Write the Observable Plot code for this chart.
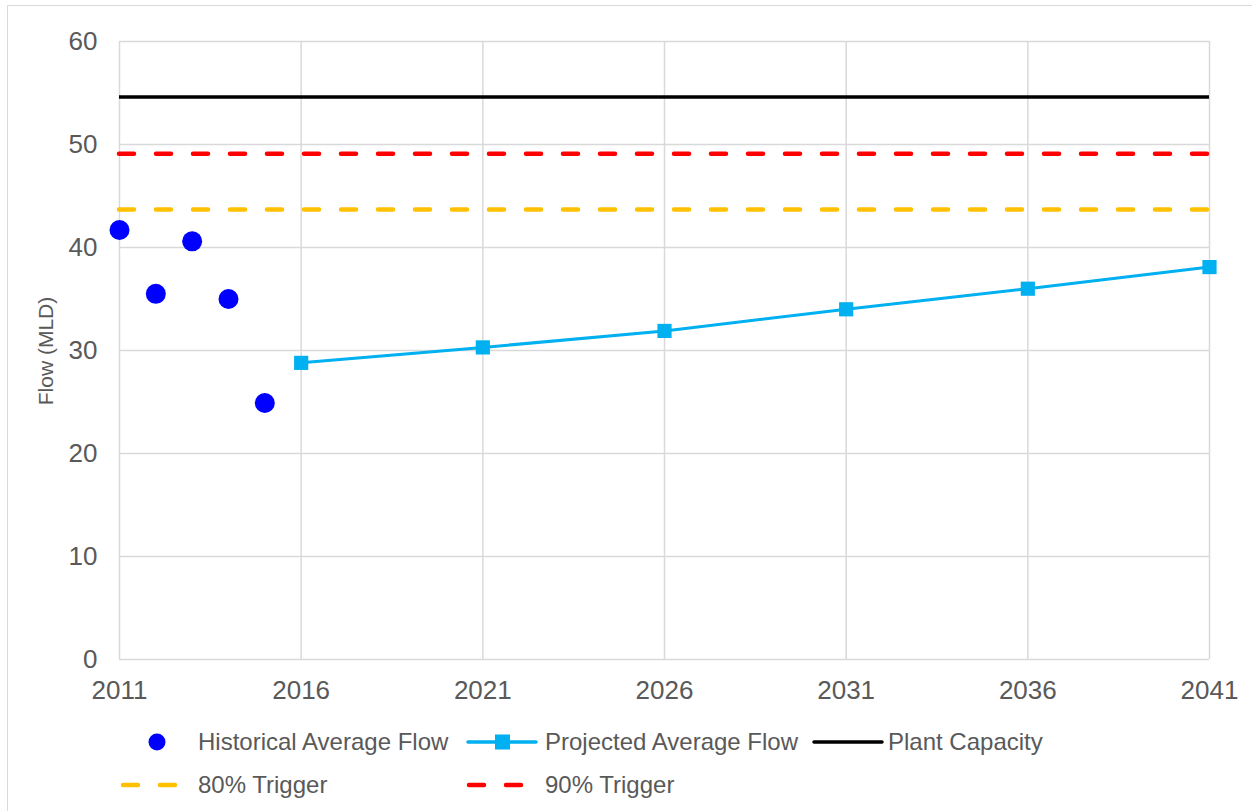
<!DOCTYPE html>
<html>
<head>
<meta charset="utf-8">
<script src="https://cdn.jsdelivr.net/npm/d3@7"></script>
<script src="https://cdn.jsdelivr.net/npm/@observablehq/plot@0.6"></script>
<style>
  html, body { margin: 0; padding: 0; background: #fff; }
  body { width: 1252px; height: 811px; position: relative; overflow: hidden; font-family: "Liberation Sans", Arial, sans-serif; }
  #frame { position: absolute; left: 7px; top: 5px; width: 1300px; height: 900px; border-left: 1.5px solid #d9d9d9; border-top: 1.5px solid #d9d9d9; box-sizing: border-box; }
  #chart { position: absolute; left: 0; top: 0; }
  .leg { position: absolute; font-size: 24px; color: #595959; white-space: nowrap; line-height: 1; }
  .legsvg { position: absolute; }
  #ylabel { position: absolute; font-size: 21px; color: #595959; white-space: nowrap; line-height: 1; left: 45px; top: 351px; transform: translate(-50%, -50%) rotate(-90deg); }
</style>
</head>
<body>
<div id="frame"></div>
<div id="chart"></div>
<script>
// ---- data ----
const histYears = [2011, 2012, 2013, 2014, 2015];
const histFlow = [41.7, 35.5, 40.6, 35.0, 24.9];
const projYears = [2016, 2021, 2026, 2031, 2036, 2041];
const projFlow = [28.8, 30.3, 31.9, 34.0, 36.0, 38.1];
const plantCapacity = 54.6;
const trigger90 = 49.1;
const trigger80 = 43.7;
const xTicks = [2011, 2016, 2021, 2026, 2031, 2036, 2041];
const yTicks = [0, 10, 20, 30, 40, 50, 60];
const yLabel = "Flow (MLD)";
const seriesNames = ["Historical Average Flow", "Projected Average Flow", "Plant Capacity", "80% Trigger", "90% Trigger"];

const hist = histYears.map((y, i) => ({year: y, flow: histFlow[i]}));
const proj = projYears.map((y, i) => ({year: y, flow: projFlow[i]}));

const C = {hist: "#0000ff", proj: "#00b0f0", cap: "#000000", t80: "#ffc000", t90: "#ff0000", grid: "#d9d9d9", text: "#595959"};

const chart = Plot.plot({
  width: 1252,
  height: 811,
  marginLeft: 119,
  marginRight: 43,
  marginTop: 41,
  marginBottom: 152,
  style: {fontFamily: "Liberation Sans, Arial, sans-serif", fontSize: "26px", color: C.text, background: "transparent", overflow: "visible"},
  x: {domain: [2011, 2041], label: null},
  y: {domain: [0, 60], label: null},
  marks: [
    Plot.ruleY(yTicks, {stroke: C.grid, strokeWidth: 1.5}),
    Plot.ruleX(xTicks, {stroke: C.grid, strokeWidth: 1.5}),
    Plot.axisX({ticks: xTicks, tickFormat: d => String(d), tickSize: 0, tickPadding: 21, fontSize: 26, fill: C.text, label: null}),
    Plot.axisY({ticks: yTicks, tickSize: 0, tickPadding: 22, fontSize: 26, fill: C.text, label: null}),
    Plot.ruleY([plantCapacity], {stroke: C.cap, strokeWidth: 3.5}),
    Plot.ruleY([trigger90], {stroke: C.t90, strokeWidth: 4.5, strokeDasharray: "15,22", strokeLinecap: "round"}),
    Plot.ruleY([trigger80], {stroke: C.t80, strokeWidth: 4.5, strokeDasharray: "15,22", strokeLinecap: "round"}),
    Plot.line(proj, {x: "year", y: "flow", stroke: C.proj, strokeWidth: 3}),
    Plot.dot(proj, {x: "year", y: "flow", symbol: "square", r: 8, fill: C.proj, stroke: "none"}),
    Plot.dot(hist, {x: "year", y: "flow", r: 10, fill: C.hist, stroke: "none"})
  ]
});
document.getElementById("chart").appendChild(chart);

const yl = document.createElement("div");
yl.id = "ylabel";
yl.textContent = yLabel;
document.body.appendChild(yl);

// ---- legend ----
const body = document.body;
function addText(txt, x, y) {
  const d = document.createElement("div");
  d.className = "leg";
  d.textContent = txt;
  d.style.left = x + "px";
  d.style.top = (y - 12) + "px";
  body.appendChild(d);
}
function addSym(x, y, w, draw) {
  const s = d3.create("svg").attr("class", "legsvg").attr("width", w).attr("height", 30)
    .style("left", x + "px").style("top", (y - 15) + "px");
  draw(s);
  body.appendChild(s.node());
}
// row 1
addSym(141, 742, 34, s => s.append("circle").attr("cx", 16).attr("cy", 15).attr("r", 8.5).attr("fill", C.hist));
addText(seriesNames[0], 198, 742);
addSym(465, 742, 75, s => {
  s.append("line").attr("x1", 3).attr("x2", 71).attr("y1", 15).attr("y2", 15).attr("stroke", C.proj).attr("stroke-width", 3.5).attr("stroke-linecap", "round");
  s.append("rect").attr("x", 30).attr("y", 7.5).attr("width", 15).attr("height", 15).attr("fill", C.proj);
});
addText(seriesNames[1], 545, 742);
addSym(811, 742, 74, s => s.append("line").attr("x1", 3).attr("x2", 71).attr("y1", 15).attr("y2", 15).attr("stroke", C.cap).attr("stroke-width", 3.5).attr("stroke-linecap", "round"));
addText(seriesNames[2], 888, 742);
// row 2
addSym(118, 785, 66, s => s.append("line").attr("x1", 5).attr("x2", 60).attr("y1", 15).attr("y2", 15).attr("stroke", C.t80).attr("stroke-width", 4.5).attr("stroke-dasharray", "15,22").attr("stroke-linecap", "round"));
addText(seriesNames[3], 198, 785);
addSym(463, 785, 70, s => s.append("line").attr("x1", 6).attr("x2", 62).attr("y1", 15).attr("y2", 15).attr("stroke", C.t90).attr("stroke-width", 4.5).attr("stroke-dasharray", "15,22").attr("stroke-linecap", "round"));
addText(seriesNames[4], 545, 785);
</script>
</body>
</html>
